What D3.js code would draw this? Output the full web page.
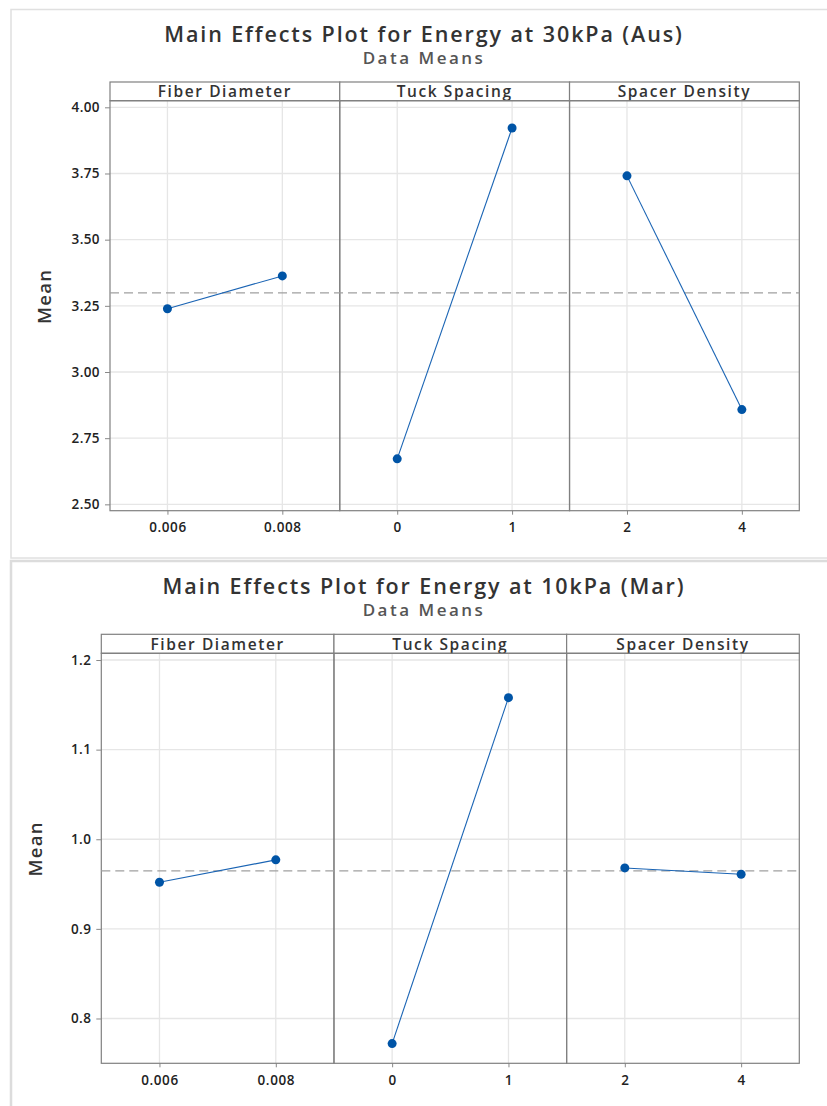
<!DOCTYPE html>
<html>
<head>
<meta charset="utf-8">
<script src="https://cdn.jsdelivr.net/npm/d3@7"></script>
<style>
  html, body { margin: 0; padding: 0; background: #ffffff; }
  svg { display: block; }
  text { font-family: "Open Sans", "Noto Sans", sans-serif; }
</style>
</head>
<body>
<svg id="chart" width="827" height="1106"></svg>
<script>
// Factors and their levels (shared by both plots)
const factorNames = ["Fiber Diameter", "Tuck Spacing", "Spacer Density"];
const levelLabels = [["0.006", "0.008"], ["0", "1"], ["2", "4"]];

// Level means: energy at 30kPa (Aus)
const ausMeans = [[3.239, 3.363], [2.672, 3.922], [3.741, 2.858]];
const ausTicks = [2.50, 2.75, 3.00, 3.25, 3.50, 3.75, 4.00];
const ausDomain = [2.476, 4.025];

// Level means: energy at 10kPa (Mar)
const marMeans = [[0.952, 0.977], [0.772, 1.158], [0.968, 0.961]];
const marTicks = [0.8, 0.9, 1.0, 1.1, 1.2];
const marDomain = [0.750, 1.2075];

const BLUE = "#0054a6";
const svg = d3.select("#chart");

// Card frames around each plot
svg.append("rect").attr("x", 11).attr("y", 9.5).attr("width", 830).attr("height", 548.5)
  .attr("fill", "#fff").attr("stroke", "#e0e0e0").attr("stroke-width", 1.5);
svg.append("rect").attr("x", 11).attr("y", 561).attr("width", 830).attr("height", 560)
  .attr("fill", "#fff").attr("stroke", "#dcdcdc").attr("stroke-width", 2.5);

function drawPlot(cfg) {
  const g = svg.append("g");
  const cx = 424;

  g.append("text").attr("x", cx).attr("y", cfg.titleY)
    .attr("text-anchor", "middle").attr("font-size", 21.5).attr("font-weight", 600)
    .attr("letter-spacing", 1.9).attr("fill", "#333").text(cfg.title);
  g.append("text").attr("x", cx).attr("y", cfg.subY)
    .attr("text-anchor", "middle").attr("font-size", 17).attr("font-weight", 600)
    .attr("letter-spacing", 2.5).attr("fill", "#555").text("Data Means");

  const y = d3.scaleLinear().domain(cfg.domain).range([cfg.plotBottom, cfg.plotTop]);
  const panels = d3.scaleBand().domain(d3.range(factorNames.length))
    .range([cfg.left, cfg.right]).paddingInner(0).paddingOuter(0);
  const grand = d3.mean(cfg.means.flat());
  const panelScales = [];

  // horizontal grid lines
  g.append("g").selectAll("line").data(cfg.ticks).join("line")
    .attr("x1", cfg.left).attr("x2", cfg.right)
    .attr("y1", d => y(d)).attr("y2", d => y(d))
    .attr("stroke", "#e6e6e6").attr("stroke-width", 1.3);

  factorNames.forEach((name, i) => {
    const x0 = panels(i), w = panels.bandwidth();
    const x = d3.scalePoint().domain(levelLabels[i]).range([x0, x0 + w]).padding(0.5);

    // vertical grid lines at each level
    g.append("g").selectAll("line").data(levelLabels[i]).join("line")
      .attr("x1", d => x(d)).attr("x2", d => x(d))
      .attr("y1", cfg.plotTop).attr("y2", cfg.plotBottom)
      .attr("stroke", "#e6e6e6").attr("stroke-width", 1.3);

    // x axis ticks and labels
    const xa = g.append("g").attr("transform", `translate(0,${cfg.plotBottom})`)
      .call(d3.axisBottom(x).tickSize(4).tickPadding(8));
    xa.select(".domain").remove();
    xa.selectAll(".tick line").attr("stroke", "#888");
    xa.selectAll(".tick text").attr("font-family", "'Open Sans', sans-serif")
      .attr("font-size", 13.5).attr("font-weight", 600).attr("letter-spacing", 0.6)
      .attr("fill", "#222");

    // header strip
    g.append("rect").attr("x", x0).attr("y", cfg.headerTop)
      .attr("width", w).attr("height", cfg.plotTop - cfg.headerTop)
      .attr("fill", "#fff").attr("stroke", "#808080").attr("stroke-width", 1.2);
    g.append("text").attr("x", x0 + w / 2).attr("y", cfg.plotTop - 3.5)
      .attr("text-anchor", "middle").attr("font-size", 15.5).attr("font-weight", 600)
      .attr("letter-spacing", 1.6).attr("fill", "#333").text(name);

    // panel frame
    g.append("rect").attr("x", x0).attr("y", cfg.plotTop)
      .attr("width", w).attr("height", cfg.plotBottom - cfg.plotTop)
      .attr("fill", "none").attr("stroke", "#808080").attr("stroke-width", 1.2);

    panelScales.push(x);
  });

  // grand mean reference line
  g.append("line").attr("x1", cfg.left).attr("x2", cfg.right)
    .attr("y1", y(grand)).attr("y2", y(grand))
    .attr("stroke", "#a0a0a0").attr("stroke-width", 1.3).attr("stroke-dasharray", "9,5");

  // level means: connecting line and markers per factor
  panelScales.forEach((x, i) => {
    const pts = levelLabels[i].map((lv, j) => ({ lv, v: cfg.means[i][j] }));
    g.append("path").datum(pts)
      .attr("d", d3.line().x(d => x(d.lv)).y(d => y(d.v)))
      .attr("fill", "none").attr("stroke", "#1a64b4").attr("stroke-width", 1.1);
    g.append("g").selectAll("circle").data(pts).join("circle")
      .attr("cx", d => x(d.lv)).attr("cy", d => y(d.v)).attr("r", 4.5)
      .attr("fill", BLUE);
  });

  // y axis
  const ya = g.append("g").attr("transform", `translate(${cfg.left},0)`)
    .call(d3.axisLeft(y).tickValues(cfg.ticks).tickFormat(d3.format(cfg.fmt)).tickSize(5).tickPadding(5));
  ya.select(".domain").remove();
  ya.selectAll(".tick line").attr("stroke", "#888");
  ya.selectAll(".tick text").attr("font-family", "'Open Sans', sans-serif")
    .attr("font-size", 13.5).attr("font-weight", 600).attr("letter-spacing", 0.4)
    .attr("fill", "#222");

  g.append("text")
    .attr("transform", `translate(${cfg.left - 59},${(cfg.headerTop + cfg.plotBottom) / 2}) rotate(-90)`)
    .attr("text-anchor", "middle").attr("font-size", 18.5).attr("font-weight", 600)
    .attr("letter-spacing", 1.3).attr("fill", "#333").text("Mean");
}

drawPlot({
  title: "Main Effects Plot for Energy at 30kPa (Aus)",
  titleY: 42, subY: 64, headerTop: 82, plotTop: 100.7, plotBottom: 510.7,
  left: 110, right: 799.3, domain: ausDomain, ticks: ausTicks, means: ausMeans,
  fmt: ".2f"
});

drawPlot({
  title: "Main Effects Plot for Energy at 10kPa (Mar)",
  titleY: 594, subY: 616, headerTop: 634.3, plotTop: 653.3, plotBottom: 1063.3,
  left: 101.3, right: 799.3, domain: marDomain, ticks: marTicks, means: marMeans,
  fmt: ".1f"
});
</script>
</body>
</html>
